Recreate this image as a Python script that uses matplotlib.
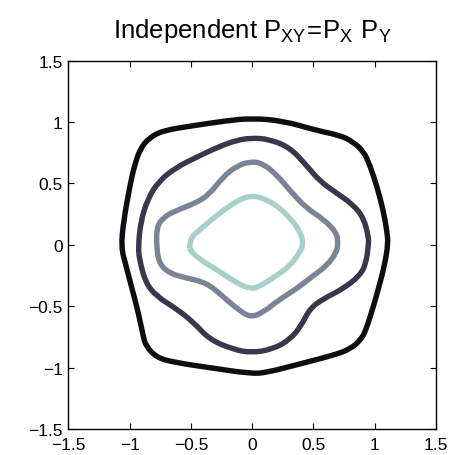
import numpy as np
import matplotlib
matplotlib.use('Agg')
import matplotlib.pyplot as plt
from matplotlib.path import Path
from matplotlib.patches import PathPatch

plt.rcParams['font.family'] = ['Liberation Sans', 'DejaVu Sans']

# contour lines (outer -> inner)
outer_x = [-1.07, -1.05, -1.00, -0.96, -0.91, -0.84, -0.73, -0.48, -0.21, -0.01,
           0.25, 0.53, 0.72, 0.82, 0.91, 0.96, 1.02, 1.07, 1.10, 1.11,
           1.08, 1.03, 0.99, 0.93, 0.89, 0.80, 0.66, 0.39, 0.12, -0.01,
           -0.35, -0.62, -0.78, -0.87, -0.89, -0.93, -0.98, -1.03]
outer_y = [-0.02, 0.19, 0.47, 0.65, 0.79, 0.87, 0.93, 0.97, 1.01, 1.03,
           1.01, 0.93, 0.89, 0.84, 0.76, 0.65, 0.47, 0.28, 0.11, 0.01,
           -0.17, -0.36, -0.50, -0.69, -0.77, -0.85, -0.90, -0.97, -1.04, -1.05,
           -1.00, -0.96, -0.92, -0.82, -0.74, -0.55, -0.36, -0.17]

second_x = [-0.93, -0.91, -0.85, -0.76, -0.62, -0.46, -0.27, -0.13, -0.01, 0.14,
            0.31, 0.44, 0.55, 0.69, 0.82, 0.91, 0.95, 0.95, 0.93, 0.88,
            0.74, 0.58, 0.47, 0.40, 0.31, 0.17, -0.01, -0.16, -0.35, -0.48,
            -0.62, -0.78, -0.87, -0.92]
second_y = [-0.02, 0.19, 0.38, 0.52, 0.63, 0.71, 0.80, 0.85, 0.87, 0.86,
            0.79, 0.65, 0.52, 0.42, 0.33, 0.22, 0.06, 0.01, -0.15, -0.25,
            -0.36, -0.44, -0.52, -0.66, -0.77, -0.85, -0.88, -0.85, -0.77, -0.63,
            -0.52, -0.42, -0.31, -0.12]

third_x = [-0.78, -0.78, -0.73, -0.62, -0.46, -0.35, -0.24, -0.13, -0.01, 0.09,
           0.20, 0.31, 0.44, 0.58, 0.69, 0.70, 0.69, 0.61, 0.50, 0.36,
           0.23, 0.09, -0.01, -0.10, -0.24, -0.37, -0.54, -0.68, -0.76]
third_y = [-0.02, 0.14, 0.22, 0.28, 0.34, 0.41, 0.55, 0.64, 0.68, 0.66,
           0.57, 0.44, 0.30, 0.21, 0.10, 0.01, -0.06, -0.17, -0.25, -0.36,
           -0.44, -0.55, -0.59, -0.54, -0.42, -0.31, -0.27, -0.23, -0.15]

inner_x = [-0.51, -0.50, -0.44, -0.35, -0.21, -0.10, -0.01, 0.09, 0.20, 0.31,
           0.39, 0.42, 0.39, 0.31, 0.20, 0.06, -0.01, -0.13, -0.29, -0.43, -0.51]
inner_y = [-0.02, 0.06, 0.11, 0.19, 0.30, 0.37, 0.40, 0.38, 0.32, 0.22,
           0.11, 0.01, -0.06, -0.17, -0.25, -0.34, -0.36, -0.31, -0.20, -0.12, -0.04]

tick_vals = [-1.5, -1, -0.5, 0, 0.5, 1, 1.5]
tick_labels = ['\u22121.5', '\u22121', '\u22120.5', '0', '0.5', '1', '1.5']

contours = [(outer_x, outer_y, '#0e0e12'),
            (second_x, second_y, '#38374b'),
            (third_x, third_y, '#7a8497'),
            (inner_x, inner_y, '#a9cfcd')]


def smooth_loop(xs, ys):
    # closed quadratic bezier: traced points are control points, midpoints on curve
    pts = np.column_stack([xs, ys])
    mids = (pts + np.roll(pts, -1, axis=0)) / 2
    verts = [mids[-1]]
    codes = [Path.MOVETO]
    for p, m in zip(pts, mids):
        verts += [p, m]
        codes += [Path.CURVE3, Path.CURVE3]
    return Path(verts, codes)


fig = plt.figure(figsize=(4.56, 4.56), dpi=100)
ax = fig.add_axes([0.150, 0.057, 0.806, 0.808])

for cx, cy, col in contours:
    patch = PathPatch(smooth_loop(cx, cy), facecolor='none', edgecolor=col,
                      linewidth=3.9, joinstyle='round')
    ax.add_patch(patch)

ax.set_xlim(-1.5, 1.5)
ax.set_ylim(-1.5, 1.5)
ax.set_xticks(tick_vals)
ax.set_xticklabels(tick_labels)
ax.set_yticks(tick_vals)
ax.set_yticklabels(tick_labels)
ax.tick_params(direction='in', length=4, width=0.8, labelsize=12.5,
               top=True, right=True)
ax.tick_params(axis='x', pad=6)
ax.tick_params(axis='y', pad=4)
for s in ax.spines.values():
    s.set_linewidth(1.0)

ax.set_title(r'Independent $\mathregular{P_{XY}\!=\!P_X\ P_Y}$', fontsize=18.5, pad=17)

fig.savefig('out.png', dpi=100)
